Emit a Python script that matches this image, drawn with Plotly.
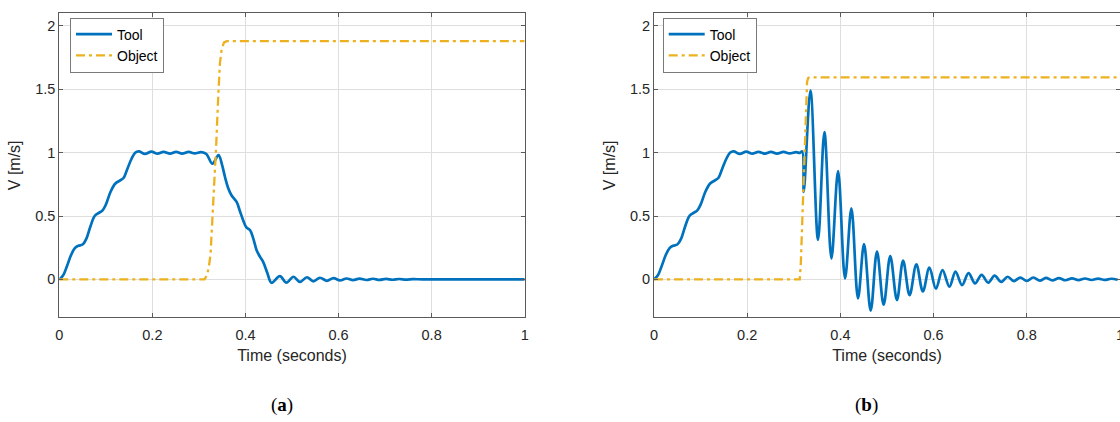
import plotly.graph_objects as go

# ---------------- data ----------------
# (a) tool velocity, sampled at local features of the response
tool_a_t = [0.0, 0.008, 0.016, 0.025, 0.033, 0.041, 0.05, 0.058, 0.067, 0.076, 0.085, 0.093,
            0.1, 0.11, 0.12, 0.13, 0.138, 0.146, 0.155, 0.163, 0.171, 0.184, 0.198, 0.211,
            0.224, 0.238, 0.251, 0.264, 0.278, 0.291, 0.305, 0.316, 0.329, 0.342, 0.35,
            0.356, 0.363, 0.37, 0.381, 0.388, 0.395, 0.402, 0.41, 0.417, 0.424, 0.431,
            0.438, 0.447, 0.456, 0.474, 0.488, 0.503, 0.517, 0.532, 0.546, 0.56, 0.575,
            0.589, 0.603, 0.617, 0.631, 0.645, 0.66, 0.674, 0.688, 0.702, 0.716, 0.73,
            0.745, 0.76, 0.78, 0.85, 1.0]
tool_a_v = [0.0, 0.03, 0.1, 0.19, 0.245, 0.265, 0.275, 0.32, 0.42, 0.5, 0.525, 0.545,
            0.59, 0.69, 0.755, 0.78, 0.8, 0.87, 0.95, 1.0, 1.01, 0.99, 1.008, 0.992,
            1.006, 0.992, 1.006, 0.992, 1.006, 0.994, 1.004, 0.99, 0.913, 0.98, 0.9,
            0.808, 0.72, 0.664, 0.611, 0.54, 0.467, 0.41, 0.388, 0.32, 0.23, 0.18,
            0.139, 0.05, -0.027, 0.026, -0.026, 0.021, -0.02, 0.017, -0.015, 0.013, -0.011,
            0.01, -0.008, 0.007, -0.006, 0.006, -0.005, 0.005, -0.004, 0.004, -0.003, 0.003,
            -0.002, 0.002, 0.0, 0.0, 0.0]

# (a) object velocity
obj_a_t = [0.0, 0.312, 0.317, 0.321, 0.325, 0.329, 0.333, 0.337, 0.341, 0.345, 0.349,
           0.354, 0.36, 1.0]
obj_a_v = [0.0, 0.0, 0.03, 0.09, 0.2, 0.45, 0.72, 1.05, 1.4, 1.7, 1.82, 1.87, 1.88, 1.88]

# (b) tool velocity
tool_b_t = [0.0, 0.008, 0.016, 0.025, 0.033, 0.041, 0.05, 0.058, 0.067, 0.076, 0.085, 0.093,
            0.1, 0.11, 0.12, 0.13, 0.138, 0.146, 0.155, 0.163, 0.171, 0.184, 0.198, 0.211,
            0.224, 0.238, 0.251, 0.264, 0.278, 0.291, 0.305, 0.313, 0.318, 0.3214,
            0.3357, 0.352, 0.3657, 0.3807, 0.395, 0.41, 0.4236, 0.4378, 0.4507, 0.465,
            0.4785, 0.4928, 0.507, 0.5213, 0.5345, 0.5485, 0.563, 0.577, 0.591, 0.605,
            0.619, 0.634, 0.647, 0.661, 0.675, 0.689, 0.703, 0.717, 0.731, 0.745, 0.759,
            0.772, 0.786, 0.8, 0.814, 0.828, 0.841, 0.855, 0.869, 0.883, 0.897, 0.911,
            0.925, 0.939, 0.953, 0.967, 0.981, 0.995]
tool_b_v = [0.0, 0.03, 0.1, 0.19, 0.245, 0.265, 0.275, 0.32, 0.42, 0.5, 0.525, 0.545,
            0.59, 0.69, 0.755, 0.78, 0.8, 0.87, 0.95, 1.0, 1.01, 0.99, 1.008, 0.992,
            1.006, 0.992, 1.006, 0.992, 1.006, 0.994, 1.004, 0.998, 1.01, 0.69,
            1.49, 0.312, 1.162, 0.165, 0.854, 0.008, 0.561, -0.15, 0.278, -0.247,
            0.22, -0.2, 0.183, -0.163, 0.148, -0.125, 0.118, -0.095, 0.094, -0.074,
            0.073, -0.058, 0.062, -0.045, 0.05, -0.032, 0.036, -0.026, 0.03, -0.02, 0.021,
            -0.013, 0.014, -0.012, 0.015, -0.01, 0.012, -0.008, 0.01, -0.007, 0.008, -0.006,
            0.007, -0.005, 0.006, -0.004, 0.005, -0.003]

# (b) object velocity
obj_b_t = [0.0, 0.3128, 0.315, 0.3186, 0.3235, 0.3265, 0.3285, 0.331, 0.335, 1.0]
obj_b_v = [0.0, 0.0, 0.12, 0.52, 1.18, 1.45, 1.56, 1.59, 1.595, 1.595]

x_ticks = [0, 0.2, 0.4, 0.6, 0.8, 1]
x_labels = ["0", "0.2", "0.4", "0.6", "0.8", "1"]
y_ticks = [0, 0.5, 1, 1.5, 2]
y_labels = ["0", "0.5", "1", "1.5", "2"]
series_names = ["Tool", "Object"]
captions = ["a", "b"]

# ---------------- styling ----------------
W, H = 1120, 422
BLUE = "#0072BD"
GOLD = "#EDB120"
TXT = "#262626"
FONT = "Liberation Sans, Arial, sans-serif"

fig = go.Figure()

panels = [
    dict(t1=tool_a_t, v1=tool_a_v, t2=obj_a_t, v2=obj_a_v, xa="x", ya="y", leg="legend"),
    dict(t1=tool_b_t, v1=tool_b_v, t2=obj_b_t, v2=obj_b_v, xa="x2", ya="y2", leg="legend2"),
]
for p in panels:
    fig.add_trace(go.Scatter(x=p["t1"], y=p["v1"], mode="lines", name=series_names[0],
                             line=dict(color=BLUE, width=2.7, shape="spline", smoothing=1.0),
                             xaxis=p["xa"], yaxis=p["ya"], legend=p["leg"]))
    fig.add_trace(go.Scatter(x=p["t2"], y=p["v2"], mode="lines", name=series_names[1],
                             line=dict(color=GOLD, width=2.3, dash="9px,4px,3px,4px"),
                             xaxis=p["xa"], yaxis=p["ya"], legend=p["leg"]))

# plot-area geometry in pixels
left_a, right_a = 59.3, 524.7
left_b, right_b = 654.0, 1120.7
top_px, bot_px = 13.3, 317.4
ydom = [1 - bot_px / H, 1 - top_px / H]


def xaxis_cfg(l, r, anchor):
    return dict(domain=[l / W, min(r / W, 1.0)], range=[0, 1], anchor=anchor,
                tickvals=x_ticks, ticktext=x_labels, showgrid=True,
                gridcolor="#dedede", gridwidth=1, zeroline=False,
                showline=True, linecolor="#5a5a5a", linewidth=1, mirror="ticks",
                ticks="inside", ticklen=4, tickcolor="#5a5a5a",
                ticklabelstandoff=4, ticklabeloverflow="allow",
                tickfont=dict(family=FONT, size=14.5, color=TXT),
                title=dict(text="Time (seconds)", font=dict(family=FONT, size=16, color=TXT),
                           standoff=8),
                automargin=False)


def yaxis_cfg(anchor):
    return dict(domain=ydom, range=[-0.3, 2.1], anchor=anchor,
                tickvals=y_ticks, ticktext=y_labels, showgrid=True,
                gridcolor="#dedede", gridwidth=1, zeroline=False,
                showline=True, linecolor="#5a5a5a", linewidth=1, mirror="ticks",
                ticks="inside", ticklen=4, tickcolor="#5a5a5a",
                tickfont=dict(family=FONT, size=14.5, color=TXT),
                title=dict(text="V [m/s]", font=dict(family=FONT, size=16, color=TXT),
                           standoff=10),
                automargin=False)


legend_style = dict(bgcolor="white", bordercolor="#7a7a7a", borderwidth=1,
                    font=dict(family=FONT, size=14, color="black"),
                    xanchor="left", yanchor="top", itemwidth=36,
                    tracegroupgap=0)

fig.update_layout(
    width=W, height=H,
    margin=dict(l=0, r=0, t=0, b=0),
    paper_bgcolor="white", plot_bgcolor="white",
    xaxis=xaxis_cfg(left_a, right_a, "y"),
    yaxis=yaxis_cfg("x"),
    xaxis2=xaxis_cfg(left_b, right_b, "y2"),
    yaxis2=yaxis_cfg("x2"),
    legend=dict(x=70 / W, y=1 - 17.5 / H, **legend_style),
    legend2=dict(x=662.7 / W, y=1 - 17.5 / H, **legend_style),
    showlegend=True,
)

for cx, cap in zip([282, 866], captions):
    fig.add_annotation(x=cx / W, y=1 - 405 / H, xref="paper", yref="paper",
                       text=f"(<b>{cap}</b>)", showarrow=False,
                       font=dict(family="Liberation Serif, DejaVu Serif, serif", size=19,
                                 color="black"),
                       xanchor="center", yanchor="middle")

fig.write_html("out.html")
